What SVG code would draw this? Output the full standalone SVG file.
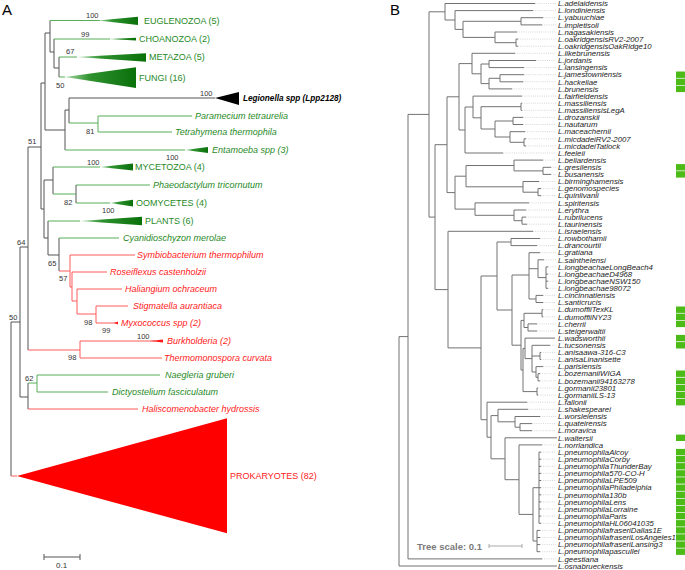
<svg xmlns="http://www.w3.org/2000/svg" width="685" height="570" viewBox="0 0 685 570">
<style>
text{font-family:"Liberation Sans",Arial,sans-serif}
.pl{font-size:15px;fill:#000}
.bs{font-size:7.5px;fill:#333}
.gC{font-size:9px;fill:#1f8a1f}
.gI{font-size:9px;fill:#1f8a1f;font-style:italic}
.rI{font-size:9px;fill:#ff1a1a;font-style:italic}
.rC{font-size:9px;fill:#ff1a1a}
.lb{font-size:7.8px;fill:#222;font-style:italic}
.gray{fill:none;stroke:#555;stroke-width:1}
.gl{fill:none;stroke:#58ad58;stroke-width:1}
.rl{fill:none;stroke:#ff5a5a;stroke-width:1}
.tb{fill:none;stroke:#727272;stroke-width:1}
.ld{fill:none;stroke:#c4c4c4;stroke-width:0.7;stroke-dasharray:1 1.2}
.sq{fill:#4cbb17}
.tg{fill:url(#gg)}
</style>
<defs>
<linearGradient id="gg" x1="0" y1="0" x2="1" y2="0">
<stop offset="0" stop-color="#a6d9a6"/>
<stop offset="0.35" stop-color="#2f922f"/>
<stop offset="1" stop-color="#0a700a"/>
</linearGradient>
</defs>
<rect width="685" height="570" fill="#fff"/>
<text class="pl" x="2" y="15">A</text>
<text class="pl" x="390" y="15">B</text>

<g id="connectors">
<g id="treeA">
<path class="gray" d="M11 322V476M11 322H20M20 247V397M20 247H28M20 397H28M28 147V350M28 147H41M41 83V209M41 83H45M41 209H44M45 33V130M45 33H50M45 130H65M50 20.5V52M50 52H54M54 39V68M54 68H59M59 57V77M65 110V150M65 110H69M69 98V123M69 98H215M44 180V238M44 180H53M44 238H48M53 167V194M48 221V255M48 255H59M59 238V271M28 383V409M76 185V203"/>
<path class="gl" d="M50 20.5H100M54 39H110M59 57H77M59 77H65M69 123H98M98 116V132M98 116H192M98 132H172M65 150H185M53 167H100M53 194H76M76 185H150M76 203H110M48 221H80M59 238H119M28 383H37M37 375V392M37 375H160M37 392H108"/>
<path class="rl" d="M59 271H70M70 255V287M70 255H135M70 287H72M72 272V301M72 272H107M72 301H77M77 289V314M77 289H122M77 314H96M96 306V323M96 306H128M96 323H116M28 350H80M80 341V358M80 341H155M80 358H162M28 409H138M11 476H17"/>
</g>
<g id="treeB">
<path class="tb" d="M399 336.6V566M399 336.6H408M399 566H557M408 114.4V558.9M408 114.4H429M408 558.9H542M429 11.8V217.1M429 11.8H445M429 217.1H435M445 3.5V20M445 3.5H535M445 20H455M455 10.6V29.4M455 10.6H533M455 29.4H463M463 21.3V37.4M463 21.3H521M463 37.4H495M521 17.7V24.9M521 17.7H543M521 24.9H542M495 32V42.7M495 32H517M495 42.7H516M516 39.1V46.2M516 39.1H518M516 46.2H518"/>
<path class="tb" d="M435 144.7V289.6M435 144.7H447M435 289.6H448M447 96.8V192.6M447 96.8H459M447 192.6H455M459 63.6V130M459 63.6H472M459 130H465M472 53.3V73.8M472 53.3H515M472 73.8H481M481 64V83.6M481 64H489M481 83.6H489M489 60.5V67.6M489 60.5H536M489 67.6H524M489 78.3V88.9M489 78.3H500M489 88.9H512M500 74.7V81.8M500 74.7H524M500 81.8H523"/>
<path class="tb" d="M465 107V153M465 107H473M465 153H503M473 96.1V117.8M473 96.1H522M473 117.8H481M481 106.7V129M481 106.7H521M481 129H495M521 103.2V110.3M521 103.2H522M521 110.3H522M495 121V137M495 121H513M495 137H510M513 117.4V124.5M513 117.4H523M513 124.5H523M510 131.7V142.3M510 131.7H525M510 142.3H524M524 138.8V145.9M524 138.8H526M524 145.9H526"/>
<path class="tb" d="M455 176.2V209.1M455 176.2H466M455 209.1H475M466 165.5V186.8M466 165.5H514M466 186.8H523M514 160.1V170.9M514 160.1H543M514 170.9H543M543 167.3V174.4M543 167.3H551M543 174.4H551M523 181.5V192.2M523 181.5H539M523 192.2H538M538 188.6V195.7M538 188.6H541M538 195.7H541M475 202.9V215.3M475 202.9H529M475 215.3H514M514 210V220.7M514 210H526M514 220.7H522M522 217.1V224.2M522 217.1H526M522 224.2H527"/>
<path class="tb" d="M448 231.3V347.9M448 231.3H533M448 347.9H481M481 276V419.7M481 276H497M481 419.7H487M497 242V310M497 242H511M497 310H512M511 238.5V245.6M511 238.5H540M511 245.6H537M512 275V345.2M512 275H529M512 345.2H521M529 252.7V299M529 252.7H540M529 268.7H538M529 299H536M538 259.8V277.6M538 259.8H544M538 277.6H546M546 266.9V288.3M546 266.9H548M546 274.1H548M546 281.2H548M546 288.3H548M536 295.4V302.5M536 295.4H543M536 302.5H543"/>
<path class="tb" d="M521 320.4V370M521 320.4H524M521 370H523M524 313.3V327.5M524 313.3H542M524 327.5H528M542 309.7V316.8M542 309.7H543M542 316.8H543M528 323.9V331M528 323.9H537M528 331H537M523 348.4V391.6M523 348.4H525M523 391.6H537M525 338.1V358.6M525 338.1H555M525 358.6H532M532 345.3V372M532 345.3H550M532 356H540M532 372H536M540 352.4V359.5M540 352.4H541M540 359.5H541M536 366.6V377.3M536 366.6H543M536 377.3H538M538 373.7V380.9M538 373.7H540M538 380.9H540M537 388V395.1M537 388H538M537 395.1H538"/>
<path class="tb" d="M487 402.2V437.2M487 402.2H527M487 437.2H491M491 415.6V458.8M491 415.6H498M491 458.8H505M498 409.3V421.8M498 409.3H528M498 421.8H515M515 416.5V427.2M515 416.5H540M515 427.2H520M520 423.6V430.7M520 423.6H532M520 430.7H532M505 437.8V479.7M505 437.8H557M505 479.7H519M519 444.9V514.4M519 444.9H542M519 514.4H533M533 487.7V541M533 487.7H539M533 541H537M539 452.1V523.3M539 452.1H541M539 459.2H541M539 466.3H541M539 473.4H541M539 480.5H541M539 487.7H541M539 494.8H541M539 501.9H541M539 509H541M539 516.1H541M539 523.3H541M537 530.4V551.7M537 530.4H540M537 537.5H540M537 544.6H540M537 551.7H540"/>
<path class="ld" d="M535 3.5H556M533 10.6H556M543 17.7H556M542 24.9H556M517 32H556M518 39.1H556M518 46.2H556M515 53.3H556M536 60.5H556M524 67.6H556M524 74.7H556M523 81.8H556M512 88.9H556M522 96.1H556M522 103.2H556M522 110.3H556M523 117.4H556M523 124.5H556M525 131.7H556M526 138.8H556M526 145.9H556M503 153H556M543 160.1H556M551 167.3H556M551 174.4H556M539 181.5H556M541 188.6H556M541 195.7H556M529 202.9H556M526 210H556M526 217.1H556M527 224.2H556M533 231.3H556M540 238.5H556M537 245.6H556M540 252.7H556M544 259.8H556M548 266.9H556M548 274.1H556M548 281.2H556M548 288.3H556M543 295.4H556M543 302.5H556M543 309.7H556M543 316.8H556M537 323.9H556M537 331H556M550 345.3H556M541 352.4H556M541 359.5H556M543 366.6H556M540 373.7H556M540 380.9H556M538 388H556M538 395.1H556M527 402.2H556M528 409.3H556M540 416.5H556M532 423.6H556M532 430.7H556M542 444.9H556M541 452.1H556M541 459.2H556M541 466.3H556M541 473.4H556M541 480.5H556M541 487.7H556M541 494.8H556M541 501.9H556M541 509H556M541 516.1H556M541 523.3H556M540 530.4H556M540 537.5H556M540 544.6H556M540 551.7H556M542 558.9H556"/>
</g>
</g>

<g id="bootstraps">
<text class="bs" x="86" y="18">100</text>
<text class="bs" x="81" y="37">99</text>
<text class="bs" x="66" y="54">67</text>
<text class="bs" x="56" y="88">50</text>
<text class="bs" x="200" y="96">100</text>
<text class="bs" x="86" y="134">81</text>
<text class="bs" x="166" y="160">100</text>
<text class="bs" x="28" y="144">51</text>
<text class="bs" x="87" y="165">100</text>
<text class="bs" x="64" y="205">82</text>
<text class="bs" x="102" y="213">100</text>
<text class="bs" x="17" y="245">64</text>
<text class="bs" x="48" y="266">65</text>
<text class="bs" x="59" y="281">57</text>
<text class="bs" x="84" y="325">98</text>
<text class="bs" x="102" y="333">99</text>
<text class="bs" x="9" y="320">50</text>
<text class="bs" x="137" y="339">100</text>
<text class="bs" x="68" y="360">98</text>
<text class="bs" x="25" y="381">62</text>
</g>

<g id="a-euglenozoa"><polygon class="tg" points="98,20.5 138,16.7 138,25"/><text class="gC" x="144" y="24">EUGLENOZOA (5)</text></g>
<g id="a-choanozoa"><polygon class="tg" points="108,39 136,37.8 136,40.4"/><text class="gC" x="139" y="42">CHOANOZOA (2)</text></g>
<g id="a-metazoa"><polygon class="tg" points="77,57 146,53.3 146,61.7"/><text class="gC" x="149" y="60">METAZOA (5)</text></g>
<g id="a-fungi"><polygon class="tg" points="65,77 136,67.3 136,88"/><text class="gC" x="139" y="81">FUNGI (16)</text></g>
<g id="a-legionella"><polygon fill="#000" points="215,98 239,92 239,105"/><text x="243" y="101" style="font-size:8.2px;font-weight:bold;font-style:italic;fill:#000">Legionella spp (Lpp2128)</text></g>
<g id="a-paramecium"><text class="gI" x="195" y="119">Paramecium tetraurelia</text></g>
<g id="a-tetrahymena"><text class="gI" x="175" y="135">Tetrahymena thermophila</text></g>
<g id="a-entamoeba"><polygon class="tg" points="185,150 208,147 208,153"/><text class="gI" x="212" y="153">Entamoeba spp (3)</text></g>
<g id="a-mycetozoa"><polygon class="tg" points="100,167 133,163.5 133,170.5"/><text class="gC" x="135" y="170">MYCETOZOA (4)</text></g>
<g id="a-phaeodactylum"><text class="gI" x="153" y="188">Phaeodactylum tricornutum</text></g>
<g id="a-oomycetes"><polygon class="tg" points="110,203 133,199.7 133,206.5"/><text class="gC" x="136" y="206">OOMYCETES (4)</text></g>
<g id="a-plants"><polygon class="tg" points="80,221 142,216.7 142,225.3"/><text class="gC" x="145" y="224">PLANTS (6)</text></g>
<g id="a-cyanidioschyzon"><text class="gI" x="123" y="241">Cyanidioschyzon merolae</text></g>
<g id="a-symbiobacterium"><text class="rI" x="137" y="258">Symbiobacterium  thermophilum</text></g>
<g id="a-roseiflexus"><text class="rI" x="110" y="275">Roseiflexus  castenholzii</text></g>
<g id="a-haliangium"><text class="rI" x="125" y="292">Haliangium  ochraceum</text></g>
<g id="a-stigmatella"><text class="rI" x="133" y="309">Stigmatella  aurantiaca</text></g>
<g id="a-myxococcus"><polygon fill="#ff1a1a" points="114,323 118,321.6 118,324.4"/><text class="rI" x="121" y="326">Myxococcus spp (2)</text></g>
<g id="a-burkholderia"><polygon fill="#ff1a1a" points="150,341 163,339.5 163,342.5"/><text class="rI" x="167" y="344">Burkholderia (2)</text></g>
<g id="a-thermomonospora"><text class="rI" x="164" y="361">Thermomonospora curvata</text></g>
<g id="a-naegleria"><text class="gI" x="165" y="378">Naegleria gruberi</text></g>
<g id="a-dictyostelium"><text class="gI" x="112" y="395">Dictyostelium  fasciculatum</text></g>
<g id="a-haliscomenobacter"><text class="rI" x="142" y="412">Haliscomenobacter  hydrossis</text></g>
<g id="a-prokaryotes"><polygon fill="#ff0000" points="17,476 227,418.3 227,533.3"/><text class="rC" x="230" y="479">PROKARYOTES (82)</text></g>
<g id="a-scale"><path d="M44 557H80M44 554V560M80 554V560" fill="none" stroke="#555" stroke-width="1"/><text x="56" y="568" style="font-size:8px;fill:#333">0.1</text></g>

<g id="b-leaves">
<g id="b01"><text class="lb" x="558" y="6.2">L.adelaidensis</text></g>
<g id="b02"><text class="lb" x="558" y="13.3">L.londiniensis</text></g>
<g id="b03"><text class="lb" x="558" y="20.4">L.yabuuchiae</text></g>
<g id="b04"><text class="lb" x="558" y="27.6">L.impletisoli</text></g>
<g id="b05"><text class="lb" x="558" y="34.7">L.nagasakiensis</text></g>
<g id="b06"><text class="lb" x="558" y="41.8">L.oakridgensisRV2-2007</text></g>
<g id="b07"><text class="lb" x="558" y="48.9">L.oakridgensisOakRidge10</text></g>
<g id="b08"><text class="lb" x="558" y="56.0">L.likebrunensis</text></g>
<g id="b09"><text class="lb" x="558" y="63.2">L.jordanis</text></g>
<g id="b10"><text class="lb" x="558" y="70.3">L.lansingensis</text></g>
<g id="b11"><text class="lb" x="558" y="77.4">L.jamestowniensis</text><rect class="sq" x="676" y="71.5" width="9" height="6.4"/></g>
<g id="b12"><text class="lb" x="558" y="84.5">L.hackeliae</text><rect class="sq" x="676" y="78.6" width="9" height="6.4"/></g>
<g id="b13"><text class="lb" x="558" y="91.6">L.brunensis</text><rect class="sq" x="676" y="85.7" width="9" height="6.4"/></g>
<g id="b14"><text class="lb" x="558" y="98.8">L.fairfieldensis</text></g>
<g id="b15"><text class="lb" x="558" y="105.9">L.massiliensis</text></g>
<g id="b16"><text class="lb" x="558" y="113.0">L.massiliensisLegA</text></g>
<g id="b17"><text class="lb" x="558" y="120.1">L.drozanskii</text></g>
<g id="b18"><text class="lb" x="558" y="127.2">L.nautarum</text></g>
<g id="b19"><text class="lb" x="558" y="134.4">L.maceachernii</text></g>
<g id="b20"><text class="lb" x="558" y="141.5">L.micdadeiRV2-2007</text></g>
<g id="b21"><text class="lb" x="558" y="148.6">L.micdadeiTatlock</text></g>
<g id="b22"><text class="lb" x="558" y="155.7">L.feeleii</text></g>
<g id="b23"><text class="lb" x="558" y="162.8">L.beliardensis</text></g>
<g id="b24"><text class="lb" x="558" y="170.0">L.gresilensis</text><rect class="sq" x="676" y="164.1" width="9" height="6.4"/></g>
<g id="b25"><text class="lb" x="558" y="177.1">L.busanensis</text><rect class="sq" x="676" y="171.2" width="9" height="6.4"/></g>
<g id="b26"><text class="lb" x="558" y="184.2">L.birminghamensis</text></g>
<g id="b27"><text class="lb" x="558" y="191.3">L.genomospecies</text></g>
<g id="b28"><text class="lb" x="558" y="198.4">L.quinlivanii</text></g>
<g id="b29"><text class="lb" x="558" y="205.6">L.spiritensis</text></g>
<g id="b30"><text class="lb" x="558" y="212.7">L.erythra</text></g>
<g id="b31"><text class="lb" x="558" y="219.8">L.rubrilucens</text></g>
<g id="b32"><text class="lb" x="558" y="226.9">L.taurinensis</text></g>
<g id="b33"><text class="lb" x="558" y="234.0">L.israelensis</text></g>
<g id="b34"><text class="lb" x="558" y="241.2">L.rowbothamii</text></g>
<g id="b35"><text class="lb" x="558" y="248.3">L.drancourtii</text></g>
<g id="b36"><text class="lb" x="558" y="255.4">L.gratiana</text></g>
<g id="b37"><text class="lb" x="558" y="262.5">L.sainthelensi</text></g>
<g id="b38"><text class="lb" x="558" y="269.6">L.longbeachaeLongBeach4</text></g>
<g id="b39"><text class="lb" x="558" y="276.8">L.longbeachaeD4968</text></g>
<g id="b40"><text class="lb" x="558" y="283.9">L.longbeachaeNSW150</text></g>
<g id="b41"><text class="lb" x="558" y="291.0">L.longbeachae98072</text></g>
<g id="b42"><text class="lb" x="558" y="298.1">L.cincinnatiensis</text></g>
<g id="b43"><text class="lb" x="558" y="305.2">L.santicrucis</text></g>
<g id="b44"><text class="lb" x="558" y="312.4">L.dumoffiiTexKL</text><rect class="sq" x="676" y="306.5" width="9" height="6.4"/></g>
<g id="b45"><text class="lb" x="558" y="319.5">L.dumoffiiNY23</text><rect class="sq" x="676" y="313.6" width="9" height="6.4"/></g>
<g id="b46"><text class="lb" x="558" y="326.6">L.cherrii</text><rect class="sq" x="676" y="320.7" width="9" height="6.4"/></g>
<g id="b47"><text class="lb" x="558" y="333.7">L.steigerwaltii</text></g>
<g id="b48"><text class="lb" x="558" y="340.8">L.wadsworthii</text><rect class="sq" x="676" y="334.9" width="9" height="6.4"/></g>
<g id="b49"><text class="lb" x="558" y="348.0">L.tucsonensis</text><rect class="sq" x="676" y="342.1" width="9" height="6.4"/></g>
<g id="b50"><text class="lb" x="558" y="355.1">L.anisaawa-316-C3</text></g>
<g id="b51"><text class="lb" x="558" y="362.2">L.anisaLinanisette</text></g>
<g id="b52"><text class="lb" x="558" y="369.3">L.parisiensis</text></g>
<g id="b53"><text class="lb" x="558" y="376.4">L.bozemaniiWIGA</text><rect class="sq" x="676" y="370.5" width="9" height="6.4"/></g>
<g id="b54"><text class="lb" x="558" y="383.6">L.bozemanii94163278</text><rect class="sq" x="676" y="377.7" width="9" height="6.4"/></g>
<g id="b55"><text class="lb" x="558" y="390.7">L.gormanii23801</text><rect class="sq" x="676" y="384.8" width="9" height="6.4"/></g>
<g id="b56"><text class="lb" x="558" y="397.8">L.gormaniiLS-13</text><rect class="sq" x="676" y="391.9" width="9" height="6.4"/></g>
<g id="b57"><text class="lb" x="558" y="404.9">L.fallonii</text><rect class="sq" x="676" y="399.0" width="9" height="6.4"/></g>
<g id="b58"><text class="lb" x="558" y="412.0">L.shakespearei</text></g>
<g id="b59"><text class="lb" x="558" y="419.2">L.worsleiensis</text></g>
<g id="b60"><text class="lb" x="558" y="426.3">L.quateirensis</text></g>
<g id="b61"><text class="lb" x="558" y="433.4">L.moravica</text></g>
<g id="b62"><text class="lb" x="558" y="440.5">L.waltersii</text><rect class="sq" x="676" y="434.6" width="9" height="6.4"/></g>
<g id="b63"><text class="lb" x="558" y="447.6">L.norrlandica</text></g>
<g id="b64"><text class="lb" x="558" y="454.8">L.pneumophilaAlcoy</text><rect class="sq" x="676" y="448.9" width="9" height="6.4"/></g>
<g id="b65"><text class="lb" x="558" y="461.9">L.pneumophilaCorby</text><rect class="sq" x="676" y="456.0" width="9" height="6.4"/></g>
<g id="b66"><text class="lb" x="558" y="469.0">L.pneumophilaThunderBay</text><rect class="sq" x="676" y="463.1" width="9" height="6.4"/></g>
<g id="b67"><text class="lb" x="558" y="476.1">L.pneumophila570-CO-H</text><rect class="sq" x="676" y="470.2" width="9" height="6.4"/></g>
<g id="b68"><text class="lb" x="558" y="483.2">L.pneumophilaLPE509</text><rect class="sq" x="676" y="477.3" width="9" height="6.4"/></g>
<g id="b69"><text class="lb" x="558" y="490.4">L.pneumophilaPhiladelphia</text><rect class="sq" x="676" y="484.5" width="9" height="6.4"/></g>
<g id="b70"><text class="lb" x="558" y="497.5">L.pneumophila130b</text><rect class="sq" x="676" y="491.6" width="9" height="6.4"/></g>
<g id="b71"><text class="lb" x="558" y="504.6">L.pneumophilaLens</text><rect class="sq" x="676" y="498.7" width="9" height="6.4"/></g>
<g id="b72"><text class="lb" x="558" y="511.7">L.pneumophilaLorraine</text><rect class="sq" x="676" y="505.8" width="9" height="6.4"/></g>
<g id="b73"><text class="lb" x="558" y="518.8">L.pneumophilaParis</text><rect class="sq" x="676" y="512.9" width="9" height="6.4"/></g>
<g id="b74"><text class="lb" x="558" y="526.0">L.pneumophilaHL06041035</text><rect class="sq" x="676" y="520.1" width="9" height="6.4"/></g>
<g id="b75"><text class="lb" x="558" y="533.1">L.pneumophilafraseriDallas1E</text><rect class="sq" x="676" y="527.2" width="9" height="6.4"/></g>
<g id="b76"><text class="lb" x="558" y="540.2">L.pneumophilafraseriLosAngeles1</text><rect class="sq" x="676" y="534.3" width="9" height="6.4"/></g>
<g id="b77"><text class="lb" x="558" y="547.3">L.pneumophilafraseriLansing3</text><rect class="sq" x="676" y="541.4" width="9" height="6.4"/></g>
<g id="b78"><text class="lb" x="558" y="554.4">L.pneumophilapascullei</text><rect class="sq" x="676" y="548.5" width="9" height="6.4"/></g>
<g id="b79"><text class="lb" x="558" y="561.6">L.geestiana</text></g>
<g id="b80"><text class="lb" x="558" y="568.7">L.osnabrueckensis</text></g>
</g>
<g id="b-scale"><path d="M489 546H522M489 544V548M522 544V548" fill="none" stroke="#aaa" stroke-width="1"/><text x="417" y="549.5" style="font-size:9.5px;font-weight:bold;fill:#7a7a7a">Tree scale: 0.1</text></g>
</svg>
